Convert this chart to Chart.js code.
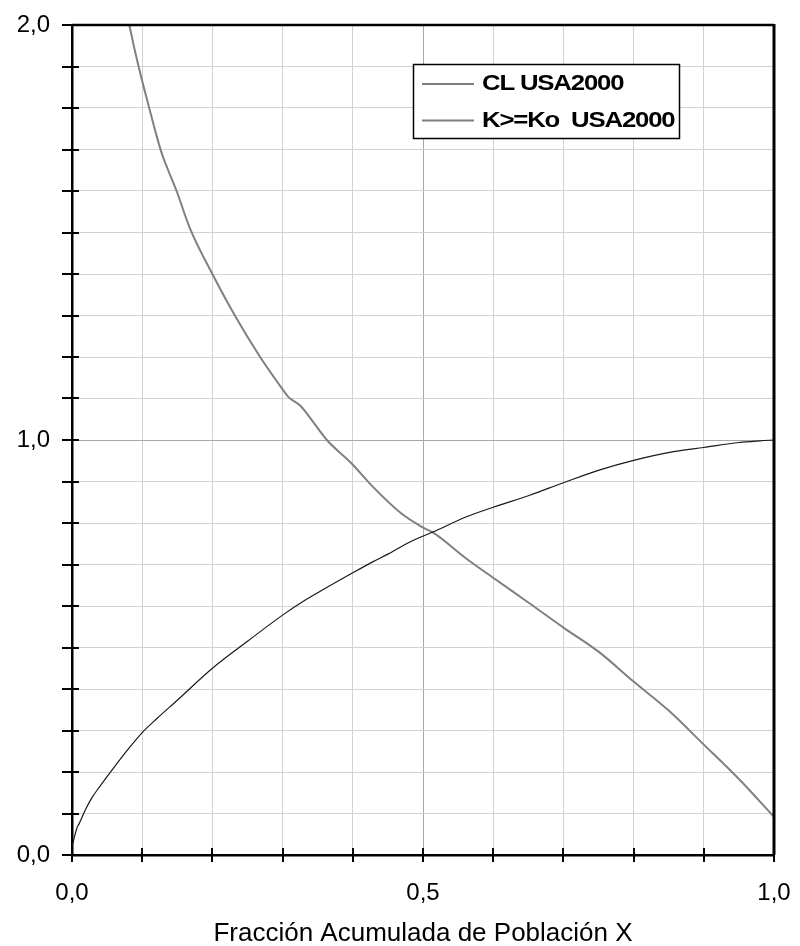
<!DOCTYPE html>
<html>
<head>
<meta charset="utf-8">
<script src="https://cdn.jsdelivr.net/npm/chart.js@4/dist/chart.umd.min.js"></script>
<style>
  html, body { margin: 0; padding: 0; background: #fff; }
  canvas { display: block; }
</style>
</head>
<body>
<canvas id="c" width="800" height="946"></canvas>
<script>
// Cumulative population fraction (x) and the two curves
const xCL = [0, 0.007, 0.01, 0.02, 0.028, 0.04, 0.058, 0.08, 0.1, 0.121, 0.15, 0.2, 0.25, 0.3, 0.334, 0.35,
             0.4, 0.429, 0.45, 0.482, 0.515, 0.562, 0.6, 0.652, 0.7, 0.752, 0.8, 0.857, 0.9, 0.95, 0.98, 1.0];
const yCL = [0.02, 0.065, 0.075, 0.112, 0.137, 0.166, 0.207, 0.255, 0.295, 0.329, 0.373, 0.45, 0.515, 0.578, 0.616, 0.632,
             0.68, 0.707, 0.725, 0.755, 0.779, 0.815, 0.838, 0.867, 0.897, 0.928, 0.951, 0.972, 0.982, 0.994, 0.998, 1.0];

const xK = [0.0817, 0.09, 0.1, 0.11, 0.12, 0.128, 0.137, 0.149, 0.168, 0.2, 0.232, 0.268, 0.3, 0.308, 0.325, 0.345,
            0.363, 0.398, 0.427, 0.467, 0.5, 0.515, 0.562, 0.6, 0.652, 0.7, 0.75, 0.8, 0.85, 0.9, 0.95, 1.0];
const yK = [2.0, 1.935, 1.865, 1.80, 1.736, 1.69, 1.65, 1.60, 1.51, 1.40, 1.30, 1.20, 1.122, 1.104, 1.083, 1.04,
            1.0, 0.944, 0.89, 0.826, 0.789, 0.776, 0.714, 0.668, 0.606, 0.548, 0.49, 0.418, 0.348, 0.266, 0.183, 0.092];

const seriesNames = ['CL USA2000', 'K>=Ko  USA2000'];
const xAxisTitle = 'Fracción Acumulada de Población X';
const labeledX = [0, 0.5, 1];
const labeledY = [0, 1, 2];

const toPoints = (xs, ys) => xs.map((x, i) => ({ x: x, y: ys[i] }));
const near = (list, v) => list.some(t => Math.abs(t - v) < 1e-6);
const fmt = v => v.toFixed(1).replace('.', ',');
const FONT = '"Liberation Sans", Arial, sans-serif';

// Frame, crossing tick marks and the boxed legend
const decorations = {
  id: 'decorations',
  afterDatasetsDraw(chart) {
    const { ctx, chartArea: a, scales } = chart;
    ctx.save();
    ctx.strokeStyle = '#000';
    ctx.lineCap = 'butt';

    // top and right frame
    ctx.lineWidth = 2.5;
    ctx.beginPath();
    ctx.moveTo(a.left, a.top);
    ctx.lineTo(a.right, a.top);
    ctx.stroke();
    ctx.lineWidth = 3;
    ctx.beginPath();
    ctx.moveTo(a.right, a.top - 1);
    ctx.lineTo(a.right, a.bottom);
    ctx.stroke();

    // tick marks
    ctx.lineWidth = 2;
    scales.y.ticks.forEach((t, i) => {
      const y = Math.round(scales.y.getPixelForTick(i));
      const inner = (t.value === 0 || t.value === 2) ? 0 : 7;
      ctx.beginPath();
      ctx.moveTo(a.left - 10, y);
      ctx.lineTo(a.left + inner, y);
      ctx.stroke();
    });
    scales.x.ticks.forEach((t, i) => {
      const x = Math.round(scales.x.getPixelForTick(i));
      const inner = (t.value === 0 || t.value === 1) ? 0 : 7;
      ctx.beginPath();
      ctx.moveTo(x, a.bottom - inner);
      ctx.lineTo(x, a.bottom + 7);
      ctx.stroke();
    });

    // legend box
    const bx = 413, by = 64, bw = 266, bh = 74;
    ctx.fillStyle = '#fff';
    ctx.fillRect(bx, by, bw, bh);
    ctx.lineWidth = 1.5;
    ctx.strokeRect(bx + 0.5, by + 0.5, bw, bh);
    chart.data.datasets.forEach((ds, i) => {
      const yRow = by + 20 + i * 36.5;
      ctx.strokeStyle = '#7f7f7f';
      ctx.lineWidth = 2;
      ctx.beginPath();
      ctx.moveTo(bx + 9, yRow);
      ctx.lineTo(bx + 61, yRow);
      ctx.stroke();
      // condensed bold label, widened horizontally
      ctx.save();
      ctx.translate(bx + 69, yRow);
      ctx.scale(1.17, 1);
      ctx.font = 'bold 22px ' + FONT;
      ctx.letterSpacing = '-1px';
      ctx.textBaseline = 'middle';
      ctx.textAlign = 'left';
      ctx.fillStyle = '#000';
      ctx.fillText(ds.label, 0, 0);
      ctx.restore();
    });
    ctx.restore();
  }
};

new Chart(document.getElementById('c'), {
  type: 'scatter',
  data: {
    datasets: [
      {
        label: seriesNames[0],
        data: toPoints(xCL, yCL),
        showLine: true,
        borderColor: '#1a1a1a',
        borderWidth: 1.2,
        pointRadius: 0,
        cubicInterpolationMode: 'monotone'
      },
      {
        label: seriesNames[1],
        data: toPoints(xK, yK),
        showLine: true,
        borderColor: '#808080',
        borderWidth: 2,
        pointRadius: 0,
        cubicInterpolationMode: 'monotone'
      }
    ]
  },
  options: {
    responsive: false,
    animation: false,
    events: [],
    layout: { padding: { top: 25, right: 26, left: 0, bottom: 0 } },
    plugins: {
      legend: { display: false },
      tooltip: { enabled: false }
    },
    scales: {
      x: {
        type: 'linear',
        min: 0,
        max: 1,
        afterFit(s) { s.height = 91; s.paddingLeft = 0; s.paddingRight = 0; },
        border: { display: true, color: '#000', width: 2.5 },
        grid: {
          drawTicks: false,
          color: c => (c.tick && Math.abs(c.tick.value - 0.5) < 1e-6) ? '#a8a8a8' : '#d2d2d2',
          lineWidth: 1
        },
        ticks: {
          stepSize: 0.1,
          autoSkip: false,
          maxRotation: 0,
          padding: 24,
          color: '#000',
          font: { family: FONT, size: 24 },
          callback: v => near(labeledX, v) ? fmt(v) : ''
        },
        title: {
          display: true,
          text: xAxisTitle,
          color: '#000',
          font: { family: FONT, size: 26 },
          padding: { top: 0, bottom: -3 }
        }
      },
      y: {
        min: 0,
        max: 2,
        afterFit(s) { s.width = 72; s.paddingTop = 0; s.paddingBottom = 0; },
        border: { display: true, color: '#000', width: 2.5 },
        grid: {
          drawTicks: false,
          color: c => (c.tick && Math.abs(c.tick.value - 1) < 1e-6) ? '#a8a8a8' : '#d2d2d2',
          lineWidth: 1
        },
        ticks: {
          stepSize: 0.1,
          autoSkip: false,
          padding: 22,
          color: '#000',
          font: { family: FONT, size: 24 },
          callback: v => near(labeledY, v) ? fmt(v) : ''
        }
      }
    }
  },
  plugins: [decorations]
});
</script>
</body>
</html>
